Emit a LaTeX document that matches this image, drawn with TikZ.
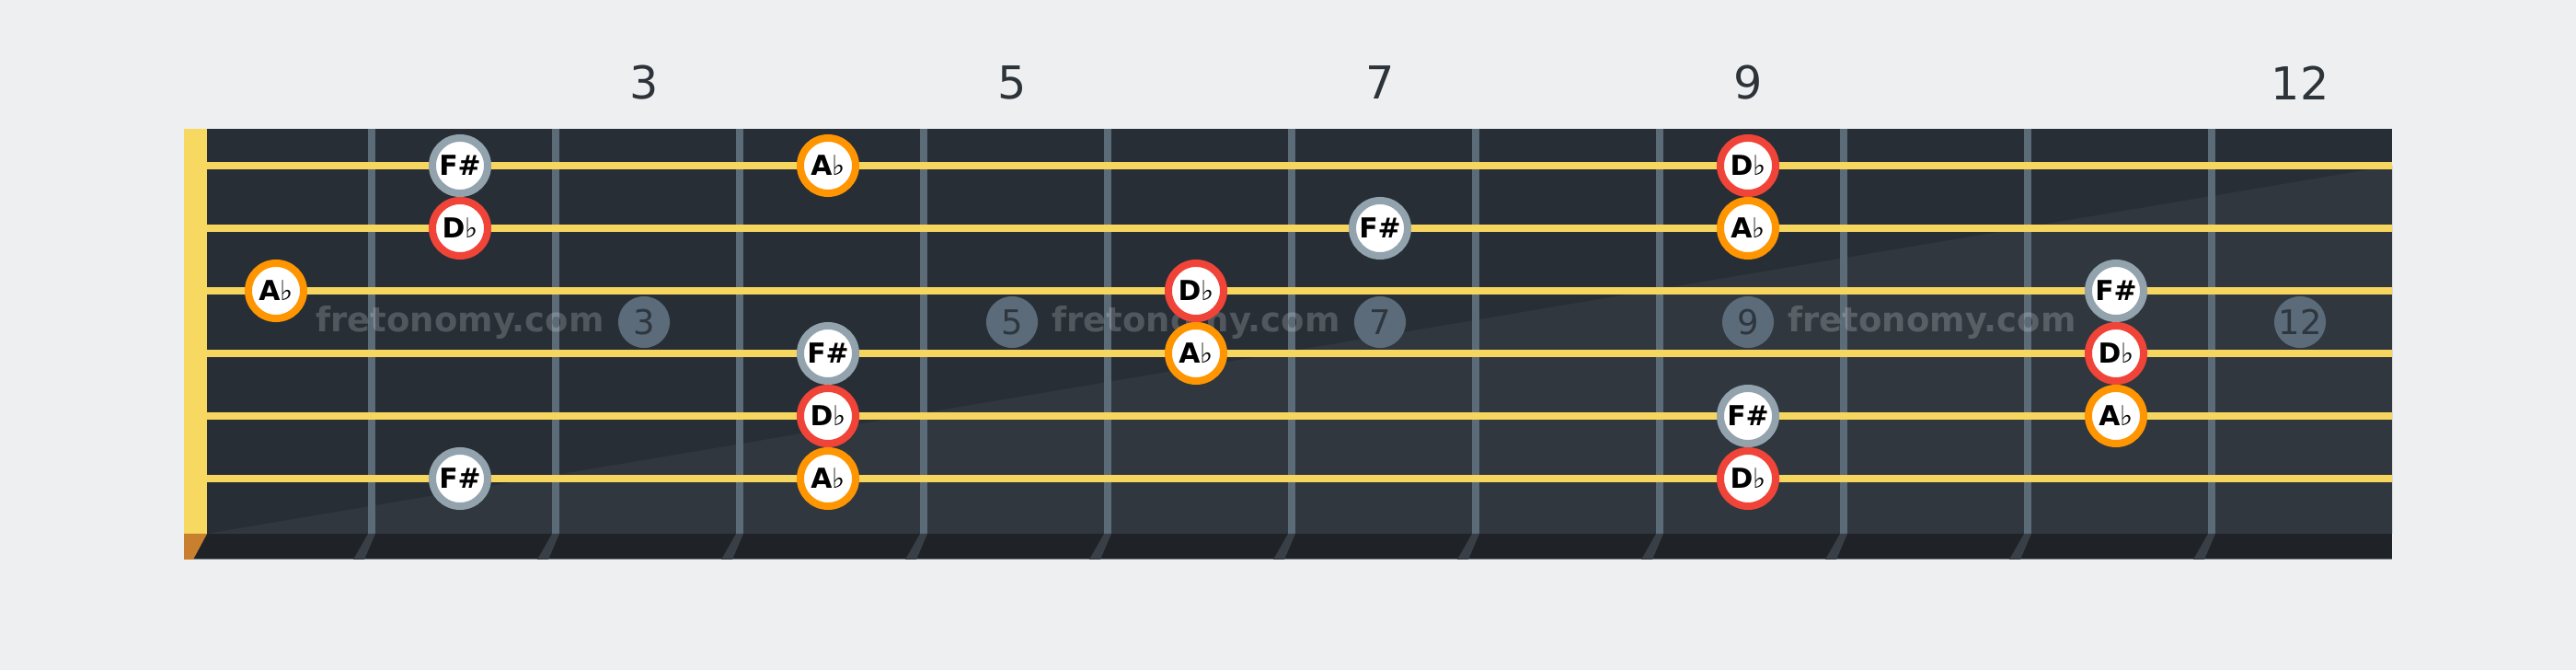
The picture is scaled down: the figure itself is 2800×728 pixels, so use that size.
\documentclass[tikz,border=0pt]{standalone}
\usepackage{fontspec}
\setmainfont{DejaVu Sans}
\usepackage{tikz}
\definecolor{bg}{HTML}{EEEFF1}
\definecolor{boarddark}{HTML}{272E36}
\definecolor{boardlight}{HTML}{30373F}
\definecolor{strip}{HTML}{1F2327}
\definecolor{stripedge}{HTML}{7A848C}
\definecolor{nutcol}{HTML}{F7D860}
\definecolor{nutend}{HTML}{C8802E}
\definecolor{fretcol}{HTML}{5B6B78}
\definecolor{fretshadow}{HTML}{393F46}
\definecolor{stringcol}{HTML}{F7D65F}
\definecolor{noteab}{HTML}{FF9500}
\definecolor{notedb}{HTML}{F04438}
\definecolor{notefs}{HTML}{93A3AD}
\definecolor{inlaycol}{HTML}{5B6B79}
\definecolor{inlaytxt}{HTML}{2E363F}
\definecolor{labelcol}{HTML}{2C3339}
\newcommand{\flt}{{\mdseries ♭}}

\begin{document}
\begin{tikzpicture}[
  x=0.01cm, y=-0.01cm,
  note/.style={circle, draw, line width=0.08cm, fill=white,
               minimum size=0.6cm, inner sep=0pt,
               font=\fontsize{8.5}{10}\selectfont\bfseries},
  ab/.style={note, draw=noteab},
  db/.style={note, draw=notedb},
  fs/.style={note, draw=notefs},
  inlay/.style={circle, fill=inlaycol, minimum size=0.56cm, inner sep=0pt,
                text=inlaytxt, font=\fontsize{10.5}{12}\selectfont},
  fretnum/.style={text=labelcol, font=\fontsize{14}{16}\selectfont},
  wmark/.style={text=white, text opacity=0.2,
                font=\fontsize{10.5}{12}\selectfont\bfseries}
]
  \useasboundingbox[fill=bg] (0,0) rectangle (2800,728);
  \fill[boarddark] (200,140) rectangle (2600,580);
  \fill[boardlight] (224,580) -- (2600,180) -- (2600,580) -- cycle;
  \fill[strip] (200,580) rectangle (2600,608);
  \draw[stripedge, line width=0.01cm] (200,608) -- (2600,608);
  \fill[nutcol] (200,140) rectangle (225,580);
  \fill[nutend] (200,580) -- (225,580) -- (210,608) -- (200,608) -- cycle;
  \foreach \f in {1,...,11} {
    \fill[fretcol] ({200+200*\f},140) rectangle ({208+200*\f},580);
    \fill[fretshadow] ({200+200*\f},580) -- ({208+200*\f},580)
      -- ({196+200*\f},608) -- ({184+200*\f},608) -- cycle;
  }

  \node[inlay] (in3) at (700,350) {3};
  \node[inlay] (in5) at (1100,350) {5};
  \node[inlay] (in7) at (1500,350) {7};
  \node[inlay] (in9) at (1900,350) {9};
  \node[inlay] (in12) at (2500,350) {12};
  \node[wmark] (wm1) at (500,350) {fretonomy.com};
  \node[wmark] (wm2) at (1300,350) {fretonomy.com};
  \node[wmark] (wm3) at (2100,350) {fretonomy.com};

  \foreach \s in {1,...,6}
    \draw[stringcol, line width=0.08cm] (225,{112+68*\s}) -- (2600,{112+68*\s});

  \node[fs] (s1f2) at (500,180) {F\#};
  \node[ab] (s1f4) at (900,180) {A\flt};
  \node[db] (s1f9) at (1900,180) {D\flt};
  \node[db] (s2f2) at (500,248) {D\flt};
  \node[fs] (s2f7) at (1500,248) {F\#};
  \node[ab] (s2f9) at (1900,248) {A\flt};
  \node[ab] (s3f1) at (300,316) {A\flt};
  \node[db] (s3f6) at (1300,316) {D\flt};
  \node[fs] (s3f11) at (2300,316) {F\#};
  \node[fs] (s4f4) at (900,384) {F\#};
  \node[ab] (s4f6) at (1300,384) {A\flt};
  \node[db] (s4f11) at (2300,384) {D\flt};
  \node[db] (s5f4) at (900,452) {D\flt};
  \node[fs] (s5f9) at (1900,452) {F\#};
  \node[ab] (s5f11) at (2300,452) {A\flt};
  \node[fs] (s6f2) at (500,520) {F\#};
  \node[ab] (s6f4) at (900,520) {A\flt};
  \node[db] (s6f9) at (1900,520) {D\flt};

  \node[fretnum] (n3) at (700,90) {3};
  \node[fretnum] (n5) at (1100,90) {5};
  \node[fretnum] (n7) at (1500,90) {7};
  \node[fretnum] (n9) at (1900,90) {9};
  \node[fretnum] (n12) at (2500,90) {12};
\end{tikzpicture}
\end{document}
